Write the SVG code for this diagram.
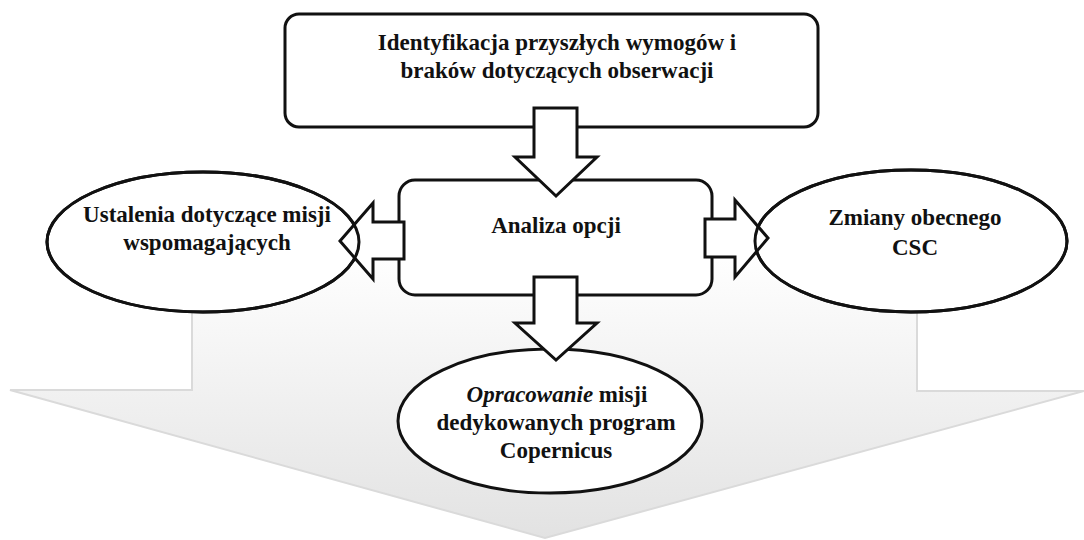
<svg xmlns="http://www.w3.org/2000/svg" width="1084" height="540" viewBox="0 0 1084 540">
<style>
.node{fill:#ffffff;stroke:#111111;stroke-width:3}
.outline{fill:none;stroke:#111111;stroke-width:3}
.conn{fill:#ffffff;stroke:#111111;stroke-width:3;stroke-linejoin:miter}
.t{font-family:"Liberation Serif","DejaVu Serif",serif;font-weight:bold;font-size:23px;fill:#111111;text-anchor:middle}
.it{font-style:italic}
</style>
<defs>
<linearGradient id="bg" x1="0" y1="250" x2="0" y2="540" gradientUnits="userSpaceOnUse">
<stop offset="0" stop-color="#ffffff"/>
<stop offset="1" stop-color="#e2e2e2"/>
</linearGradient>
</defs>
<rect width="1084" height="540" fill="#ffffff"/>
<g id="bigarrow">
<path d="M192,240 H917 V391 H1084 L545,538 L10,390 H192 Z" fill="url(#bg)" stroke="#dadada" stroke-width="2"/>
</g>
<g id="n-ident">
<rect class="node" x="285" y="14" width="533" height="113" rx="14"/>
<text class="t" x="557" y="50">Identyfikacja przyszłych wymogów i</text>
<text class="t" x="557" y="78">braków dotyczących obserwacji</text>
</g>
<g id="n-analiza">
<rect class="node" x="399" y="180" width="313" height="115" rx="16"/>
<text class="t" x="556" y="233">Analiza opcji</text>
</g>
<g id="n-ustalenia">
<ellipse class="node" cx="203" cy="242" rx="156" ry="70"/>
<text class="t" x="207" y="222">Ustalenia dotyczące misji</text>
<text class="t" x="207" y="250">wspomagających</text>
</g>
<g id="n-zmiany">
<ellipse class="node" cx="911" cy="241" rx="156" ry="71"/>
<text class="t" x="915" y="225">Zmiany obecnego</text>
<text class="t" x="915" y="255">CSC</text>
</g>
<g id="n-opracowanie">
<ellipse class="node" cx="550" cy="421" rx="152" ry="72"/>
<text class="t" x="557" y="402"><tspan class="it">Opracowanie</tspan> misji</text>
<text class="t" x="556" y="430">dedykowanych program</text>
<text class="t" x="556" y="458">Copernicus</text>
</g>
<g id="connectors">
<path class="conn" d="M534,108 H577 V157 H597 L556,196 L515,157 H534 Z"/>
<path class="conn" d="M534,277 H577 V323 H597 L556,360 L515,323 H534 Z"/>
<path class="conn" d="M404,222 V259 H373 V279 L340,241 L373,203 V222 Z"/>
<path class="conn" d="M705,219 H735 V200 L768,238 L735,277 V257 H705 Z"/>
<ellipse class="outline" cx="203" cy="242" rx="156" ry="70"/>
<ellipse class="outline" cx="911" cy="241" rx="156" ry="71"/>
</g>
</svg>
